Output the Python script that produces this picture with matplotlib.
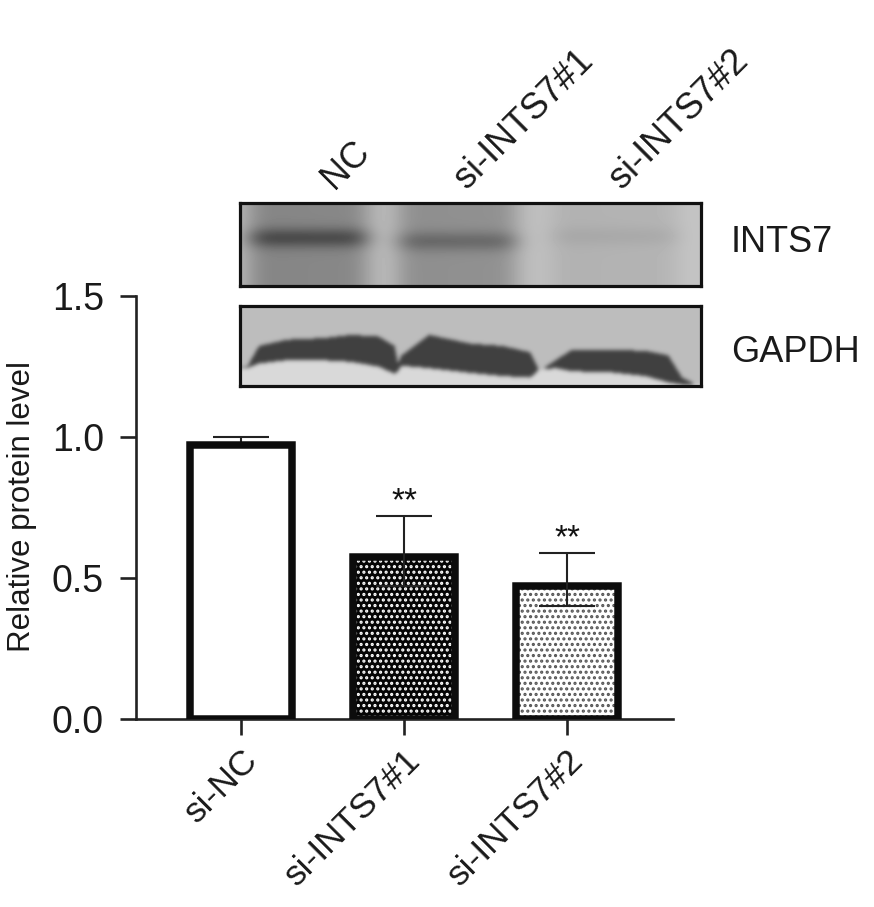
import numpy as np
import matplotlib
matplotlib.use("Agg")
import matplotlib.pyplot as plt
from matplotlib.ticker import FixedLocator

plt.rcParams['font.family'] = ['Liberation Sans', 'DejaVu Sans']
plt.rcParams['hatch.linewidth'] = 1.5

groups = ['si-NC', 'si-INTS7#1', 'si-INTS7#2']
values = [0.973, 0.576, 0.473]
err_upper = [1.0, 0.72, 0.588]
err_lower = [0.97, 0.472, 0.40]
sig = ['', '**', '**']
yticks = [0.0, 0.5, 1.0, 1.5]
ytick_labels = ['0.0', '0.5', '1.0', '1.5']
blot_lanes = ['NC', 'si-INTS7#1', 'si-INTS7#2']
blot_names = ['INTS7', 'GAPDH']

# INTS7 lanes (fraction of blot width): start, end, band darkness, smear darkness
ints7_lane_l = [0.02, 0.345, 0.68]
ints7_lane_r = [0.275, 0.60, 0.95]
ints7_band = [0.25, 0.16, 0.04]
ints7_smear = [0.20, 0.18, 0.06]
ints7_band_y = [0.42, 0.46, 0.40]
# GAPDH band outline, fraction of blot width / height
gapdh_x = [0.015, 0.04, 0.10, 0.18, 0.24, 0.30, 0.335, 0.342, 0.35, 0.41, 0.50, 0.57, 0.63, 0.648, 0.655,
           0.685, 0.72, 0.80, 0.88, 0.93, 0.96, 0.99]
gapdh_top = [0.76, 0.50, 0.42, 0.40, 0.36, 0.38, 0.50, 0.72, 0.62, 0.36, 0.47, 0.50, 0.58, 0.80, 0.80,
             0.68, 0.55, 0.55, 0.56, 0.62, 0.90, 0.99]
gapdh_bot = [0.78, 0.72, 0.68, 0.68, 0.70, 0.76, 0.85, 0.82, 0.75, 0.78, 0.84, 0.88, 0.90, 0.80, 0.80,
             0.78, 0.82, 0.83, 0.88, 0.96, 0.99, 0.99]

W, H = 874, 907
fig = plt.figure(figsize=(W / 100, H / 100), dpi=100)
def axpx(x0, y0, x1, y1):
    return fig.add_axes([x0 / W, 1 - y1 / H, (x1 - x0) / W, (y1 - y0) / H])

ax = axpx(136, 296, 673, 719)
x = np.arange(3)
ax.set_xlim(-0.644, 2.65)
ax.set_ylim(0, 1.5)
width = 0.622
lw = 5.4
dark = '#0c0c0c'

ax.bar(x[0], values[0], width, facecolor='white', edgecolor=dark, linewidth=lw, zorder=3)
ax.bar(x[1], values[1], width, facecolor='#050505', edgecolor='white', hatch='...', linewidth=0, zorder=2)
ax.bar(x[2], values[2], width, facecolor='white', edgecolor='#555555', hatch='...', linewidth=0, zorder=2)
ax.bar(x[1:], values[1:], width, facecolor='none', edgecolor=dark, linewidth=lw, zorder=3)

for i in range(3):
    ax.errorbar(x[i], values[i], yerr=[[values[i] - err_lower[i]], [err_upper[i] - values[i]]],
                color='#222222', elinewidth=1.5, capsize=20, capthick=1.5, zorder=4 if i else 2)
    if sig[i]:
        ax.text(x[i], err_upper[i] - 0.004, sig[i], ha='center', va='bottom', fontsize=24, color='#111111')

for s in ['top', 'right']:
    ax.spines[s].set_visible(False)
for s in ['left', 'bottom']:
    ax.spines[s].set_linewidth(1.9)
    ax.spines[s].set_color('#222222')
ax.yaxis.set_major_locator(FixedLocator(yticks))
ax.set_yticklabels(ytick_labels, fontsize=27, color='#1a1a1a')
ax.set_xticks(x)
ax.set_xticklabels(groups, fontsize=25.5, rotation=45, ha='right', rotation_mode='anchor', color='#1a1a1a')
ax.tick_params(axis='x', width=1.9, length=11.5, color='#222222', pad=6)
ax.tick_params(axis='y', width=1.9, length=11.5, color='#222222', pad=11.5)
fig.text(22 / W, 1 - 507 / H, 'Relative protein level', rotation=90, ha='center', va='center',
         fontsize=22.5, color='#1a1a1a')

def smooth(img, kx, ky):
    def conv(r, k):
        ker = np.exp(-0.5 * (np.arange(-3 * k, 3 * k + 1) / k) ** 2)
        ker /= ker.sum()
        return np.convolve(np.pad(r, 3 * k, mode='edge'), ker, mode='valid')
    img = np.apply_along_axis(conv, 0, img, ky)
    img = np.apply_along_axis(conv, 1, img, kx)
    return img

def frame(a):
    a.set_xticks([]); a.set_yticks([])
    for s in a.spines.values():
        s.set_linewidth(2.3)
        s.set_color('#111111')

# INTS7 blot
a1 = axpx(240, 203, 701, 286)
nx, ny = 461, 83
xx, yy = np.meshgrid(np.linspace(0, 1, nx), np.linspace(0, 1, ny))
img = 0.72 + 0.05 * xx
for l, r, b, s, yb in zip(ints7_lane_l, ints7_lane_r, ints7_band, ints7_smear, ints7_band_y):
    lane = ((xx > l) & (xx < r)).astype(float)
    img = img - s * lane - b * lane * np.exp(-0.5 * ((yy - yb) / 0.08) ** 2)
img = smooth(img, 11, 3)
a1.imshow(img, cmap='gray', vmin=0, vmax=1, aspect='auto', extent=(0, 1, 1, 0))
frame(a1)

# GAPDH blot
a2 = axpx(240, 306, 701, 386)
nx, ny = 461, 80
xx, yy = np.meshgrid(np.linspace(0, 1, nx), np.linspace(0, 1, ny))
top = np.interp(xx, gapdh_x, gapdh_top)
bot = np.interp(xx, gapdh_x, gapdh_bot)
img = np.full(xx.shape, 0.74)
img = np.where(yy > bot, 0.85, img)
img = np.where((yy >= top) & (yy <= bot) & (bot - top > 0.02), 0.25, img)
img = smooth(img, 2, 2)
a2.imshow(img, cmap='gray', vmin=0, vmax=1, aspect='auto', extent=(0, 1, 1, 0))
frame(a2)

# labels above and beside the blots
for xpx, t in zip([334, 467, 622], blot_lanes):
    fig.text(xpx / W, 1 - 190 / H, t, rotation=45, ha='left', va='baseline', rotation_mode='anchor',
             fontsize=26, color='#1a1a1a')
for ypx, t in zip([243, 353], blot_names):
    fig.text(731 / W, 1 - ypx / H, t, ha='left', va='center', fontsize=26, color='#1a1a1a')

fig.savefig('out.png', dpi=100)
